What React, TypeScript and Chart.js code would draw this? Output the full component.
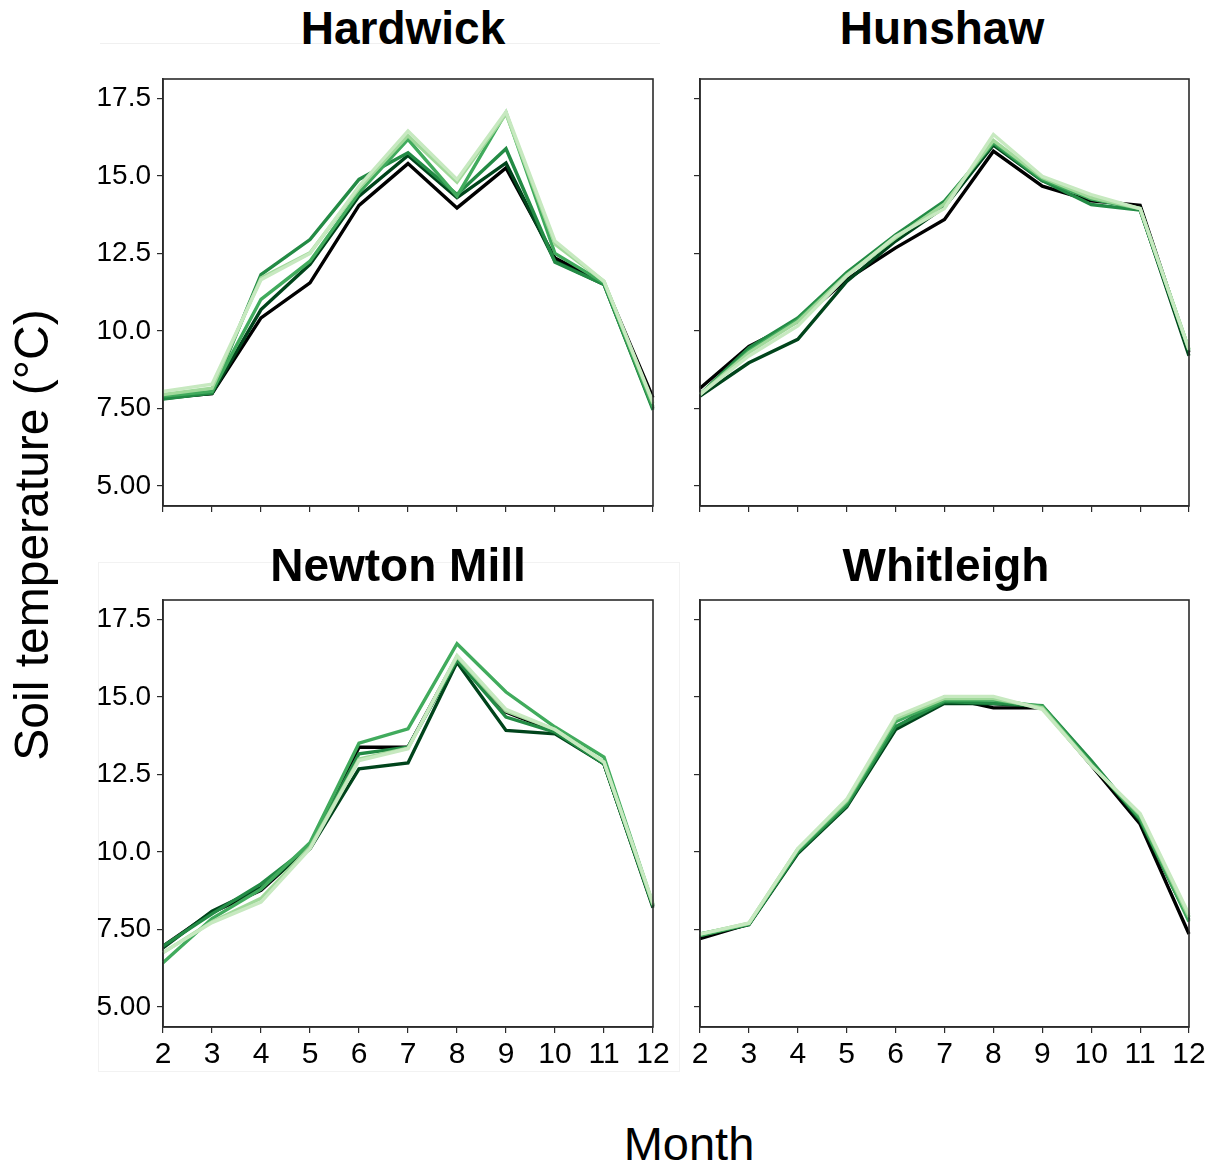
import React, { useEffect, useRef } from 'react';
import { Chart, registerables } from 'chart.js';

Chart.register(...registerables);

// ---- Data ----
const months = ['2', '3', '4', '5', '6', '7', '8', '9', '10', '11', '12'];
const yTickValues = [5, 7.5, 10, 12.5, 15, 17.5];
const yTickLabels = ['5.00', '7.50', '10.0', '12.5', '15.0', '17.5'];
const siteNames = ['Hardwick', 'Hunshaw', 'Newton Mill', 'Whitleigh'];
const seriesNames = ['Series 1', 'Series 2', 'Series 3', 'Series 4', 'Series 5', 'Series 6'];
const seriesColors = ['#000000', '#00441b', '#238b45', '#41ab5d', '#a1d99b', '#c7e9c0'];

const hardwick = [
  [7.85, 7.98, 10.42, 11.55, 14.05, 15.4, 13.97, 15.26, 12.35, 11.55, 7.85],
  [7.82, 7.98, 10.69, 12.15, 14.35, 15.66, 14.3, 15.42, 12.25, 11.5, 7.5],
  [7.8, 8.0, 11.82, 12.95, 14.89, 15.75, 14.4, 15.88, 12.22, 11.5, 7.45],
  [7.9, 8.05, 11.02, 12.25, 14.46, 16.18, 14.35, 17.05, 12.5, 11.55, 7.55],
  [7.95, 8.15, 11.71, 12.52, 14.6, 16.3, 14.8, 17.0, 12.8, 11.6, 7.65],
  [8.05, 8.28, 11.65, 12.5, 14.67, 16.45, 14.89, 17.07, 12.9, 11.6, 7.7],
];
const hunshaw = [
  [8.15, 9.5, 10.3, 11.66, 12.68, 13.6, 15.8, 14.67, 14.2, 14.05, 9.3],
  [7.9, 8.97, 9.73, 11.6, 12.9, 14.0, 16.0, 14.85, 14.3, 13.92, 9.2],
  [7.95, 9.45, 10.42, 11.88, 13.1, 14.19, 16.05, 14.85, 14.08, 13.9, 9.35],
  [7.95, 9.35, 10.35, 11.8, 13.0, 14.1, 16.1, 14.9, 14.25, 13.95, 9.4],
  [7.95, 9.3, 10.3, 11.8, 13.0, 14.1, 16.15, 14.95, 14.3, 13.95, 9.4],
  [7.95, 9.19, 10.16, 11.77, 13.05, 13.95, 16.34, 14.99, 14.4, 13.95, 9.4],
];
const newtonMill = [
  [6.96, 8.05, 8.76, 10.2, 13.38, 13.38, 16.3, 14.51, 13.9, 12.84, 8.25],
  [6.9, 8.09, 8.85, 10.1, 12.68, 12.87, 16.12, 13.92, 13.81, 12.84, 8.2],
  [6.96, 8.0, 8.97, 10.2, 13.17, 13.38, 16.2, 14.35, 13.87, 12.84, 8.25],
  [6.42, 7.85, 8.8, 10.3, 13.51, 13.97, 16.72, 15.16, 14.03, 13.06, 8.3],
  [6.75, 7.75, 8.5, 10.15, 13.0, 13.35, 16.3, 14.55, 13.95, 12.9, 8.3],
  [6.75, 7.72, 8.38, 10.1, 12.95, 13.33, 16.34, 14.6, 13.95, 12.9, 8.35],
];
const whitleigh = [
  [7.2, 7.67, 10.0, 11.55, 13.99, 15.0, 14.65, 14.65, 12.8, 10.9, 7.35],
  [7.3, 7.65, 9.95, 11.45, 13.95, 14.8, 14.78, 14.7, 12.9, 11.0, 7.8],
  [7.35, 7.67, 10.0, 11.5, 14.05, 14.85, 14.8, 14.72, 12.95, 11.05, 7.9],
  [7.3, 7.67, 10.05, 11.6, 14.2, 14.9, 14.9, 14.7, 12.85, 11.1, 7.75],
  [7.35, 7.7, 10.1, 11.65, 14.3, 14.95, 14.95, 14.65, 12.8, 11.2, 7.9],
  [7.35, 7.7, 10.1, 11.7, 14.37, 15.02, 15.02, 14.6, 12.8, 11.24, 7.99],
];

const FONT = '"Liberation Sans", Arial, Helvetica, sans-serif';
const Y_MIN = 4.35;
const Y_MAX = 18.13;

const boxPlugin = {
  id: 'plotBox',
  afterDraw(chart: any) {
    const { ctx, chartArea } = chart;
    ctx.save();
    ctx.strokeStyle = '#2b2b2b';
    ctx.lineWidth = 1.6;
    ctx.strokeRect(chartArea.left, chartArea.top, chartArea.right - chartArea.left, chartArea.bottom - chartArea.top);
    ctx.restore();
  },
};

const AXIS_W = 100;
const AXIS_H = 60;
const PAD_T = 20;
const PAD_R = 26;

function Panel(props: { left: number; top: number; w: number; h: number; data: number[][]; showX: boolean; showY: boolean }) {
  const ref = useRef<HTMLCanvasElement | null>(null);
  const { left, top, w, h, data, showX, showY } = props;
  const cw = w + AXIS_W + PAD_R;
  const ch = h + PAD_T + AXIS_H;
  useEffect(() => {
    if (!ref.current) return;
    const chart = new Chart(ref.current, {
      type: 'line',
      data: {
        labels: months,
        datasets: data.map((vals, i) => ({
          label: seriesNames[i],
          data: vals,
          order: data.length - i,
          borderColor: seriesColors[i],
          backgroundColor: seriesColors[i],
          borderWidth: 3.4,
          pointRadius: 0,
          tension: 0,
          fill: false,
        })),
      },
      options: {
        responsive: false,
        animation: false,
        devicePixelRatio: 1,
        layout: { padding: { top: PAD_T, right: PAD_R, left: 0, bottom: 0 } },
        plugins: { legend: { display: false }, tooltip: { enabled: false }, title: { display: false } },
        scales: {
          x: {
            type: 'category',
            offset: false,
            grid: { display: true, drawOnChartArea: false, drawTicks: true, tickLength: 6, color: '#2b2b2b', lineWidth: 1.2 },
            border: { display: true, color: '#2b2b2b', width: 1.6 },
            ticks: {
              autoSkip: false,
              maxRotation: 0,
              padding: 4,
              color: '#000',
              font: { family: FONT, size: 30 },
              callback: (v: any, i: number) => (showX ? months[i] : ''),
            },
            afterFit: (s: any) => {
              s.height = AXIS_H;
              s.paddingLeft = 0;
              s.paddingRight = 0;
            },
          },
          y: {
            type: 'linear',
            min: Y_MIN,
            max: Y_MAX,
            afterBuildTicks: (s: any) => { s.ticks = yTickValues.map((v) => ({ value: v })); },
            grid: { display: true, drawOnChartArea: false, drawTicks: true, tickLength: 6, color: '#2b2b2b', lineWidth: 1.2 },
            border: { display: true, color: '#2b2b2b', width: 1.6 },
            ticks: {
              padding: 6,
              color: '#000',
              font: { family: FONT, size: 28 },
              callback: (v: any) => {
                if (!showY) return '';
                const idx = yTickValues.indexOf(Number(v));
                return idx >= 0 ? yTickLabels[idx] : '';
              },
            },
            afterFit: (s: any) => {
              s.width = AXIS_W;
              s.paddingTop = 0;
              s.paddingBottom = 0;
            },
          },
        },
      },
      plugins: [boxPlugin],
    } as any);
    return () => chart.destroy();
  }, []);
  return (
    <canvas
      ref={ref}
      width={cw}
      height={ch}
      style={{ position: 'absolute', left: left - AXIS_W, top: top - PAD_T, width: cw, height: ch }}
    />
  );
}

function Label(props: { text: string; cx: number; baseline: number; size: number; bold?: boolean }) {
  const { text, cx, baseline, size, bold } = props;
  return (
    <div
      style={{
        position: 'absolute',
        left: cx - 400,
        width: 800,
        top: baseline - 0.845 * size,
        textAlign: 'center',
        fontFamily: FONT,
        fontSize: size,
        fontWeight: bold ? 700 : 400,
        lineHeight: 1,
        whiteSpace: 'nowrap',
        color: '#000',
      }}
    >
      {text}
    </div>
  );
}

export default function App() {
  const ytSize = 48;
  return (
    <div style={{ position: 'absolute', left: 0, top: 0, width: 1218, height: 1166, background: '#fff', overflow: 'hidden' }}>
      {/* faint composition frames */}
      <div style={{ position: 'absolute', left: 100, top: 43, width: 560, height: 0, borderTop: '1px solid #f0f0f0' }} />
      <div style={{ position: 'absolute', left: 98, top: 562, width: 580, height: 508, border: '1px solid #f2f2f2' }} />

      <Panel left={163} top={79} w={490} h={427} data={hardwick} showX={false} showY={true} />
      <Panel left={700} top={79} w={489} h={427} data={hunshaw} showX={false} showY={false} />
      <Panel left={163} top={600} w={490} h={427} data={newtonMill} showX={true} showY={true} />
      <Panel left={700} top={600} w={489} h={427} data={whitleigh} showX={true} showY={false} />

      <Label text={siteNames[0]} cx={403} baseline={44} size={46} bold />
      <Label text={siteNames[1]} cx={942} baseline={44} size={46} bold />
      <Label text={siteNames[2]} cx={398} baseline={581} size={46} bold />
      <Label text={siteNames[3]} cx={946} baseline={581} size={46} bold />

      <Label text="Month" cx={689} baseline={1160} size={47} />

      <div
        style={{
          position: 'absolute',
          left: 32 - 300,
          top: 535 - ytSize / 2,
          width: 600,
          height: ytSize,
          lineHeight: 1,
          textAlign: 'center',
          fontFamily: FONT,
          fontSize: ytSize,
          whiteSpace: 'nowrap',
          transform: 'rotate(-90deg)',
          transformOrigin: '50% 50%',
          color: '#000',
        }}
      >
        Soil temperature (°C)
      </div>
    </div>
  );
}
